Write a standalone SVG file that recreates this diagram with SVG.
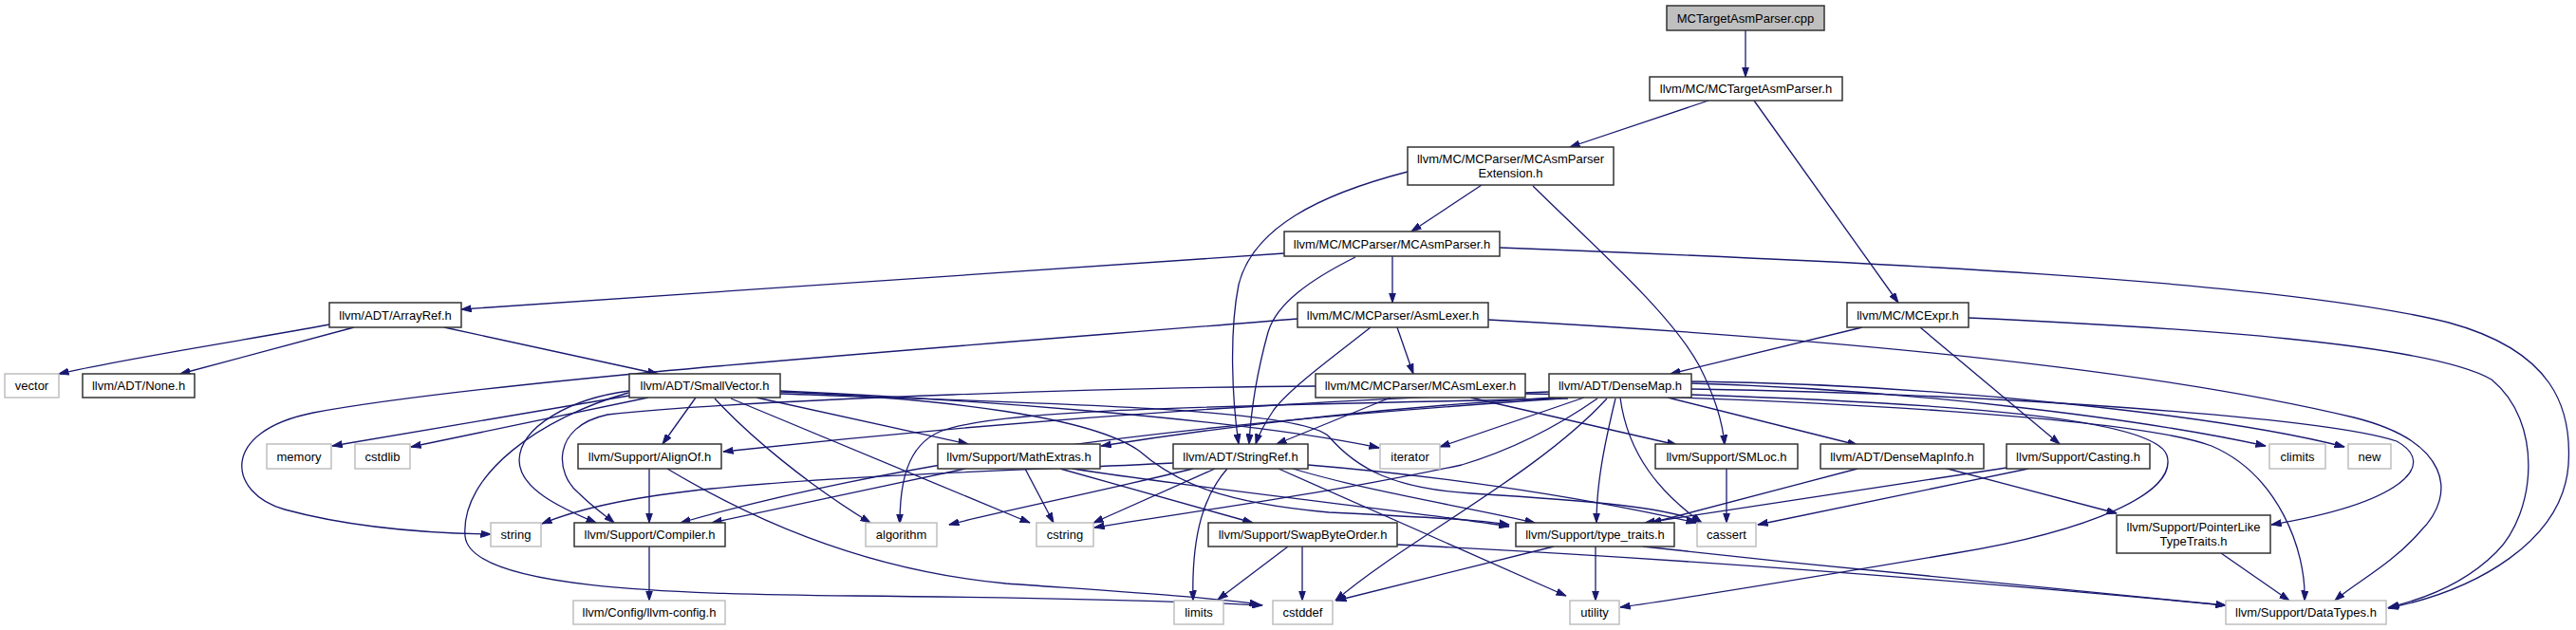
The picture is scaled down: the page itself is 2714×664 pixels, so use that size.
<svg xmlns="http://www.w3.org/2000/svg" width="2714" height="664" viewBox="0 0 2714 664">
<style>
.n rect{fill:#fff;stroke:#333;stroke-width:1.5}
.x rect{fill:#fff;stroke:#bfbfbf;stroke-width:1.5}
.cur rect{fill:#bfbfbf;stroke:#333;stroke-width:1.5}
text{font-family:"Liberation Sans",Arial,Helvetica,sans-serif;font-size:13px;text-anchor:middle;fill:#000}
#edges path{fill:none;stroke:#191970;stroke-width:1.3;marker-end:url(#arr)}
</style>
<defs>
<marker id="arr" markerWidth="11" markerHeight="8" refX="10.5" refY="4" orient="auto" markerUnits="userSpaceOnUse">
<path d="M0,0.5 L10.5,4 L0,7.5 z" fill="#191970" stroke="#191970" stroke-width="1"/>
</marker>
</defs>
<rect x="0" y="0" width="2714" height="664" fill="#fff"/>
<g id="edges">
<path d="M1839,32 L1839,81"/>
<path d="M1800,106 L1654,155"/>
<path d="M1848,106 L2000,319"/>
<path d="M1561,195 L1487,244"/>
<path d="M1483,181 C1390,205 1320,240 1305,300 C1295,350 1298,420 1305,468"/>
<path d="M1615,196 C1680,260 1760,330 1790,385 C1808,420 1815,445 1817,469"/>
<path d="M1353,267 C1000,290 700,310 486,326"/>
<path d="M1467,270 L1467,319"/>
<path d="M1428,271 C1380,295 1345,320 1336,350 C1325,390 1318,430 1316,468"/>
<path d="M1580,261 C1950,275 2400,295 2580,340 C2690,370 2710,430 2706,490 C2700,570 2610,622 2516,641"/>
<path d="M347,342 C250,360 130,378 62,394"/>
<path d="M373,345 L190,394"/>
<path d="M468,345 L693,394"/>
<path d="M1367,336 C1000,366 520,400 330,435 C230,455 240,520 300,537 C370,556 450,562 517,563"/>
<path d="M1472,345 L1489,394"/>
<path d="M1444,345 C1410,372 1360,408 1342,432 C1332,447 1326,458 1323,468"/>
<path d="M1568,337 C1900,355 2250,385 2480,440 C2580,465 2590,520 2550,560 C2520,595 2480,615 2460,633"/>
<path d="M1962,345 L1760,394"/>
<path d="M2023,345 L2170,468"/>
<path d="M2074,335 C2300,345 2560,362 2625,400 C2680,445 2672,540 2630,582 C2600,612 2560,630 2517,640"/>
<path d="M663,417 L350,470"/>
<path d="M683,419 L433,471"/>
<path d="M733,419 L698,468"/>
<path d="M663,412 C600,420 548,450 547,485 C547,515 590,535 628,551"/>
<path d="M662,414 C570,440 485,500 490,565 C495,620 700,626 900,628 C1100,630 1250,634 1330,638"/>
<path d="M797,419 L1020,468"/>
<path d="M753,420 C790,460 850,510 917,551"/>
<path d="M770,420 L1085,551"/>
<path d="M822,412 C1000,420 1300,440 1453,472"/>
<path d="M822,413 C1000,420 1150,440 1200,475 C1240,510 1290,530 1400,540 C1500,545 1560,548 1590,553"/>
<path d="M822,415 C1100,425 1370,430 1400,460 C1430,495 1470,515 1550,520 C1680,528 1760,535 1792,551"/>
<path d="M1465,419 L1345,468"/>
<path d="M1549,419 L1767,469"/>
<path d="M1386,407 C1200,408 800,420 640,437 C580,450 585,500 610,520 C625,535 640,545 647,551"/>
<path d="M1607,415 C1900,420 2250,440 2330,470 C2400,500 2430,580 2428,633"/>
<path d="M1757,419 L1957,469"/>
<path d="M1632,413 C1300,425 1000,450 762,476"/>
<path d="M1638,419 C1450,430 1300,448 1160,470"/>
<path d="M1645,420 C1350,440 1000,470 717,551"/>
<path d="M1652,420 C1300,428 1050,430 990,455 C955,470 948,510 948,552"/>
<path d="M1683,420 C1640,450 1590,475 1540,490 C1400,520 1250,540 1153,556"/>
<path d="M1693,420 C1620,500 1480,570 1407,633"/>
<path d="M1669,419 L1517,471"/>
<path d="M1702,420 C1690,470 1682,510 1682,551"/>
<path d="M1707,419 C1715,480 1750,520 1793,551"/>
<path d="M1782,410 C2100,415 2450,440 2525,465 C2570,490 2530,530 2393,553"/>
<path d="M1782,404 C2000,410 2250,440 2387,470"/>
<path d="M1782,402 C2050,405 2350,440 2470,471"/>
<path d="M1782,416 C2050,425 2270,440 2283,480 C2295,520 2200,560 2060,583 C1900,610 1780,630 1707,640"/>
<path d="M1236,488 C1100,495 900,500 750,515 C650,525 600,540 571,552"/>
<path d="M1257,494 C1150,520 1050,540 1000,553"/>
<path d="M1280,494 L1152,551"/>
<path d="M1293,494 C1270,520 1255,560 1257,633"/>
<path d="M1347,494 L1650,628"/>
<path d="M1362,494 C1450,520 1550,535 1617,551"/>
<path d="M1378,490 C1500,500 1650,520 1787,551"/>
<path d="M1080,494 L1110,551"/>
<path d="M1117,494 L1320,551"/>
<path d="M1017,494 L750,551"/>
<path d="M1130,494 C1300,520 1500,540 1590,555"/>
<path d="M684,494 L684,551"/>
<path d="M703,494 C780,540 900,600 1060,615 C1200,625 1280,630 1327,637"/>
<path d="M684,576 L684,633"/>
<path d="M1357,576 L1283,632"/>
<path d="M1372,576 L1372,633"/>
<path d="M1472,574 C1800,590 2100,615 2345,638"/>
<path d="M1681,576 L1681,633"/>
<path d="M1637,576 L1408,633"/>
<path d="M1731,576 C1950,600 2200,625 2345,638"/>
<path d="M1819,494 L1819,551"/>
<path d="M1957,494 L1740,551"/>
<path d="M2048,493 L2230,541"/>
<path d="M2114,493 L1733,551"/>
<path d="M2137,494 L1852,553"/>
<path d="M2340,583 L2412,633"/>
</g>
<g id="n-cpp" class="cur"><rect x="1756" y="6" width="166" height="26"/><text x="1839" y="23.5">MCTargetAsmParser.cpp</text></g>
<g id="n-mctap" class="n"><rect x="1738" y="81" width="203" height="25"/><text x="1839.5" y="98">llvm/MC/MCTargetAsmParser.h</text></g>
<g id="n-ext" class="n"><rect x="1483" y="155" width="217" height="40"/><text x="1591.5" y="172">llvm/MC/MCParser/MCAsmParser</text><text x="1591.5" y="187">Extension.h</text></g>
<g id="n-map" class="n"><rect x="1353" y="244" width="227" height="26"/><text x="1466.5" y="261.5">llvm/MC/MCParser/MCAsmParser.h</text></g>
<g id="n-asmlexer" class="n"><rect x="1367" y="319" width="201" height="26"/><text x="1467.5" y="336.5">llvm/MC/MCParser/AsmLexer.h</text></g>
<g id="n-arrayref" class="n"><rect x="347" y="319" width="139" height="26"/><text x="416.5" y="336.5">llvm/ADT/ArrayRef.h</text></g>
<g id="n-mcexpr" class="n"><rect x="1946" y="319" width="128" height="26"/><text x="2010" y="336.5">llvm/MC/MCExpr.h</text></g>
<g id="n-vector" class="x"><rect x="5" y="394" width="57" height="25"/><text x="33.5" y="411">vector</text></g>
<g id="n-none" class="n"><rect x="87" y="394" width="118" height="25"/><text x="146" y="411">llvm/ADT/None.h</text></g>
<g id="n-smallvector" class="n"><rect x="663" y="394" width="159" height="25"/><text x="742.5" y="411">llvm/ADT/SmallVector.h</text></g>
<g id="n-mcasmlexer" class="n"><rect x="1386" y="394" width="221" height="25"/><text x="1496.5" y="411">llvm/MC/MCParser/MCAsmLexer.h</text></g>
<g id="n-densemap" class="n"><rect x="1632" y="394" width="150" height="25"/><text x="1707" y="411">llvm/ADT/DenseMap.h</text></g>
<g id="n-memory" class="x"><rect x="281" y="468" width="68" height="26"/><text x="315" y="485.5">memory</text></g>
<g id="n-cstdlib" class="x"><rect x="374" y="468" width="58" height="26"/><text x="403" y="485.5">cstdlib</text></g>
<g id="n-alignof" class="n"><rect x="609" y="468" width="151" height="26"/><text x="684.5" y="485.5">llvm/Support/AlignOf.h</text></g>
<g id="n-mathextras" class="n"><rect x="988" y="468" width="171" height="26"/><text x="1073.5" y="485.5">llvm/Support/MathExtras.h</text></g>
<g id="n-stringref" class="n"><rect x="1236" y="468" width="142" height="26"/><text x="1307" y="485.5">llvm/ADT/StringRef.h</text></g>
<g id="n-iterator" class="x"><rect x="1454" y="468" width="63" height="26"/><text x="1485.5" y="485.5">iterator</text></g>
<g id="n-smloc" class="n"><rect x="1744" y="468" width="150" height="26"/><text x="1819" y="485.5">llvm/Support/SMLoc.h</text></g>
<g id="n-densemapinfo" class="n"><rect x="1918" y="468" width="172" height="26"/><text x="2004" y="485.5">llvm/ADT/DenseMapInfo.h</text></g>
<g id="n-casting" class="n"><rect x="2114" y="468" width="151" height="26"/><text x="2189.5" y="485.5">llvm/Support/Casting.h</text></g>
<g id="n-climits" class="x"><rect x="2391" y="468" width="59" height="26"/><text x="2420.5" y="485.5">climits</text></g>
<g id="n-new" class="x"><rect x="2474" y="468" width="45" height="26"/><text x="2496.5" y="485.5">new</text></g>
<g id="n-string" class="x"><rect x="517" y="551" width="53" height="25"/><text x="543.5" y="568">string</text></g>
<g id="n-compiler" class="n"><rect x="605" y="551" width="159" height="25"/><text x="684.5" y="568">llvm/Support/Compiler.h</text></g>
<g id="n-algorithm" class="x"><rect x="912" y="551" width="75" height="25"/><text x="949.5" y="568">algorithm</text></g>
<g id="n-cstring" class="x"><rect x="1092" y="551" width="60" height="25"/><text x="1122" y="568">cstring</text></g>
<g id="n-swapbyteorder" class="n"><rect x="1273" y="551" width="199" height="25"/><text x="1372.5" y="568">llvm/Support/SwapByteOrder.h</text></g>
<g id="n-typetraits" class="n"><rect x="1597" y="551" width="167" height="25"/><text x="1680.5" y="568">llvm/Support/type_traits.h</text></g>
<g id="n-cassert" class="x"><rect x="1788" y="551" width="62" height="25"/><text x="1819" y="568">cassert</text></g>
<g id="n-pointerlike" class="n"><rect x="2230" y="543" width="162" height="40"/><text x="2311" y="560">llvm/Support/PointerLike</text><text x="2311" y="575">TypeTraits.h</text></g>
<g id="n-llvmconfig" class="x"><rect x="604" y="633" width="160" height="25"/><text x="684" y="650">llvm/Config/llvm-config.h</text></g>
<g id="n-limits" class="x"><rect x="1237" y="633" width="52" height="25"/><text x="1263" y="650">limits</text></g>
<g id="n-cstddef" class="x"><rect x="1341" y="633" width="63" height="25"/><text x="1372.5" y="650">cstddef</text></g>
<g id="n-utility" class="x"><rect x="1654" y="633" width="52" height="25"/><text x="1680" y="650">utility</text></g>
<g id="n-datatypes" class="x"><rect x="2345" y="633" width="169" height="25"/><text x="2429.5" y="650">llvm/Support/DataTypes.h</text></g>
</svg>
